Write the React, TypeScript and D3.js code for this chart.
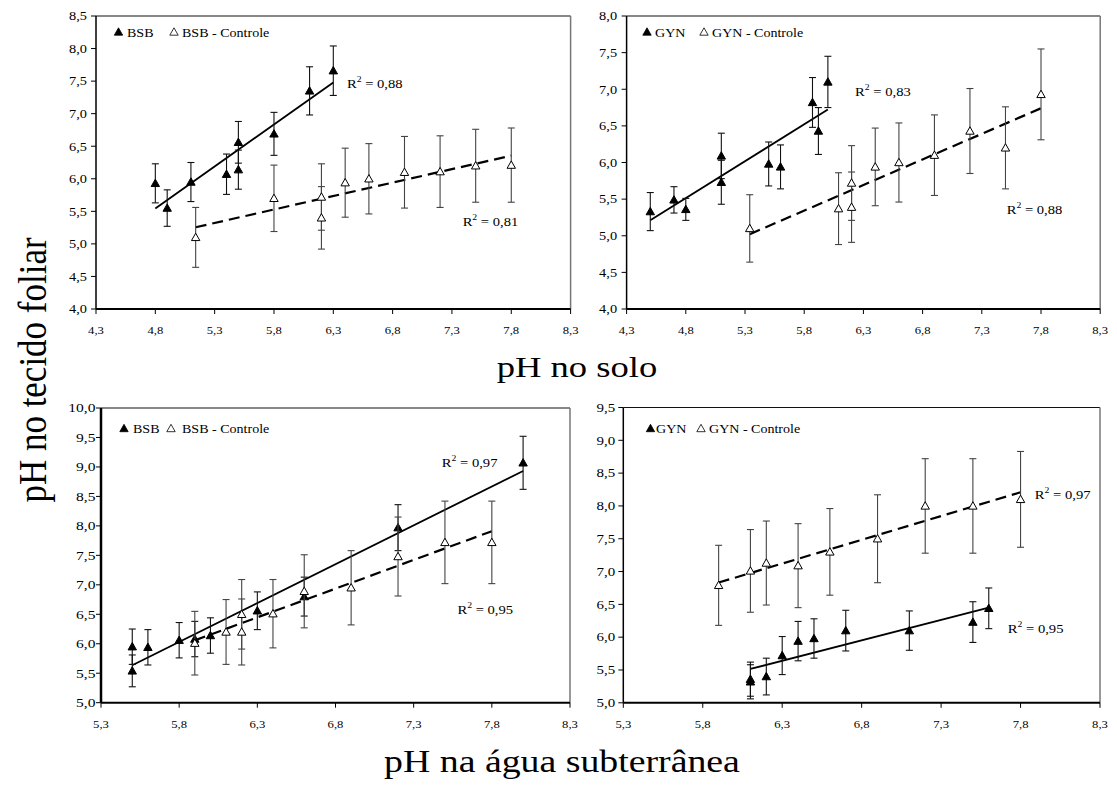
import React from 'react';
import * as d3 from 'd3';

const FONT = '"Liberation Serif","Times New Roman",Times,serif';

// ---------- tick values ----------
const soilTicksX = [4.3, 4.8, 5.3, 5.8, 6.3, 6.8, 7.3, 7.8, 8.3];
const waterTicksX = [5.3, 5.8, 6.3, 6.8, 7.3, 7.8, 8.3];
const ticksYA = [4.0, 4.5, 5.0, 5.5, 6.0, 6.5, 7.0, 7.5, 8.0, 8.5];
const ticksYB = [4.0, 4.5, 5.0, 5.5, 6.0, 6.5, 7.0, 7.5, 8.0];
const ticksYC = [5.0, 5.5, 6.0, 6.5, 7.0, 7.5, 8.0, 8.5, 9.0, 9.5, 10.0];
const ticksYD = [5.0, 5.5, 6.0, 6.5, 7.0, 7.5, 8.0, 8.5, 9.0, 9.5];

// ---------- Panel A: BSB, pH no solo ----------
const soilBsbX = [4.8, 4.9, 5.1, 5.4, 5.5, 5.5, 5.8, 6.1, 6.3];
const soilBsbY = [5.93, 5.55, 5.95, 6.07, 6.14, 6.56, 6.69, 7.35, 7.66];
const soilBsbErr = [0.30, 0.28, 0.30, 0.31, 0.30, 0.32, 0.33, 0.37, 0.38];
const soilBsbCtrlX = [5.14, 5.8, 6.2, 6.2, 6.4, 6.6, 6.9, 7.2, 7.5, 7.8];
const soilBsbCtrlY = [5.10, 5.70, 5.72, 5.40, 5.94, 6.00, 6.10, 6.11, 6.20, 6.21];
const soilBsbCtrlErr = [0.46, 0.51, 0.51, 0.48, 0.53, 0.54, 0.55, 0.55, 0.56, 0.57];

// ---------- Panel B: GYN, pH no solo ----------
const soilGynX = [4.5, 4.7, 4.8, 5.1, 5.1, 5.5, 5.6, 5.87, 5.92, 6.0];
const soilGynY = [5.33, 5.49, 5.36, 6.09, 5.73, 5.98, 5.94, 6.82, 6.43, 7.10];
const soilGynErr = [0.26, 0.18, 0.15, 0.31, 0.30, 0.30, 0.30, 0.34, 0.32, 0.35];
const soilGynCtrlX = [5.34, 6.09, 6.2, 6.2, 6.4, 6.6, 6.9, 7.2, 7.5, 7.8];
const soilGynCtrlY = [5.10, 5.37, 5.39, 5.72, 5.94, 6.00, 6.10, 6.43, 6.20, 6.93];
const soilGynCtrlErr = [0.46, 0.49, 0.48, 0.51, 0.53, 0.54, 0.55, 0.58, 0.56, 0.62];

// ---------- Panel C: BSB, pH na água subterrânea ----------
const waterBsbX = [5.5, 5.5, 5.6, 5.8, 5.9, 6.0, 6.3, 6.6, 7.2, 8.0];
const waterBsbY = [5.95, 5.54, 5.94, 6.06, 6.08, 6.14, 6.56, 6.80, 7.97, 9.07];
const waterBsbErr = [0.30, 0.27, 0.30, 0.30, 0.30, 0.30, 0.32, 0.33, 0.39, 0.45];
const waterBsbCtrlX = [5.9, 6.1, 6.2, 6.2, 6.4, 6.6, 6.9, 7.2, 7.5, 7.8];
const waterBsbCtrlY = [6.01, 6.20, 6.50, 6.20, 6.51, 6.89, 6.95, 7.48, 7.72, 7.72];
const waterBsbCtrlErr = [0.54, 0.55, 0.59, 0.56, 0.58, 0.62, 0.63, 0.67, 0.70, 0.70];

// ---------- Panel D: GYN, pH na água subterrânea ----------
const waterGynX = [6.1, 6.1, 6.2, 6.3, 6.4, 6.5, 6.7, 7.1, 7.5, 7.6];
const waterGynY = [5.36, 5.32, 5.40, 5.72, 5.94, 5.98, 6.10, 6.10, 6.23, 6.44];
const waterGynErr = [0.26, 0.26, 0.28, 0.29, 0.30, 0.30, 0.31, 0.30, 0.31, 0.31];
const waterGynCtrlX = [5.9, 6.1, 6.2, 6.4, 6.6, 6.9, 7.2, 7.5, 7.8];
const waterGynCtrlY = [6.79, 7.01, 7.13, 7.09, 7.30, 7.50, 8.00, 8.00, 8.10];
const waterGynCtrlErr = [0.61, 0.63, 0.64, 0.64, 0.66, 0.67, 0.72, 0.72, 0.73];

const fmt = (v: number) => d3.format('.1f')(v).replace('.', ',');

function linreg(xs: number[], ys: number[]) {
  const mx = d3.mean(xs) as number;
  const my = d3.mean(ys) as number;
  let sxy = 0, sxx = 0;
  xs.forEach((x, i) => { sxy += (x - mx) * (ys[i] - my); sxx += (x - mx) * (x - mx); });
  const b = sxy / sxx;
  const a = my - b * mx;
  return (x: number) => a + b * x;
}

type Series = { x: number[]; y: number[]; err: number[]; filled: boolean };
type Panel = {
  l: number; r: number; t: number; b: number;
  xDomain: [number, number]; yDomain: [number, number];
  xTicks: number[]; yTicks: number[];
  series: Series[];
  name: string;
  legend: { x: number; y: number; tx: number; ox: number; otx: number };
  r2: { text: string; x: number; y: number }[];
  yFont: number; yGap: number; leftW: number;
};

const panels: Panel[] = [
  {
    l: 96, r: 570.6, t: 16, b: 309, xDomain: [4.3, 8.3], yDomain: [4.0, 8.5],
    xTicks: soilTicksX, yTicks: ticksYA,
    series: [
      { x: soilBsbX, y: soilBsbY, err: soilBsbErr, filled: true },
      { x: soilBsbCtrlX, y: soilBsbCtrlY, err: soilBsbCtrlErr, filled: false },
    ],
    name: 'BSB',
    legend: { x: 118.5, y: 32, tx: 127, ox: 174, otx: 182 },
    r2: [{ text: '0,88', x: 6.415, y: 7.39 }, { text: '0,81', x: 7.39, y: 5.27 }],
    yFont: 12.5, yGap: 9, leftW: 1.5,
  },
  {
    l: 626.6, r: 1100.2, t: 16, b: 309, xDomain: [4.3, 8.3], yDomain: [4.0, 8.0],
    xTicks: soilTicksX, yTicks: ticksYB,
    series: [
      { x: soilGynX, y: soilGynY, err: soilGynErr, filled: true },
      { x: soilGynCtrlX, y: soilGynCtrlY, err: soilGynCtrlErr, filled: false },
    ],
    name: 'GYN',
    legend: { x: 647, y: 32, tx: 655, ox: 704, otx: 712 },
    r2: [{ text: '0,83', x: 6.23, y: 6.91 }, { text: '0,88', x: 7.51, y: 5.30 }],
    yFont: 12.5, yGap: 9.5, leftW: 1.5,
  },
  {
    l: 101, r: 570, t: 408, b: 702.7, xDomain: [5.3, 8.3], yDomain: [5.0, 10.0],
    xTicks: waterTicksX, yTicks: ticksYC,
    series: [
      { x: waterBsbX, y: waterBsbY, err: waterBsbErr, filled: true },
      { x: waterBsbCtrlX, y: waterBsbCtrlY, err: waterBsbCtrlErr, filled: false },
    ],
    name: 'BSB',
    legend: { x: 124, y: 428.5, tx: 133, ox: 171, otx: 182 },
    r2: [{ text: '0,97', x: 7.48, y: 9.0 }, { text: '0,95', x: 7.58, y: 6.5 }],
    yFont: 13.5, yGap: 5.5, leftW: 2.5,
  },
  {
    l: 623.3, r: 1100, t: 407.5, b: 702.8, xDomain: [5.3, 8.3], yDomain: [5.0, 9.5],
    xTicks: waterTicksX, yTicks: ticksYD,
    series: [
      { x: waterGynX, y: waterGynY, err: waterGynErr, filled: true },
      { x: waterGynCtrlX, y: waterGynCtrlY, err: waterGynCtrlErr, filled: false },
    ],
    name: 'GYN',
    legend: { x: 650.5, y: 428.5, tx: 656, ox: 701, otx: 709 },
    r2: [{ text: '0,97', x: 7.89, y: 8.11 }, { text: '0,95', x: 7.72, y: 6.06 }],
    yFont: 13, yGap: 8, leftW: 1.5,
  },
];

const tri = (cx: number, cy: number) =>
  `M${cx},${cy - 4.2}L${cx + 4.2},${cy + 3.2}L${cx - 4.2},${cy + 3.2}Z`;

function T({ x, y, size, sx = 1.15, anchor = 'start', children }: any) {
  return (
    <text transform={`translate(${x},${y}) scale(${sx},1)`} fontSize={size}
      textAnchor={anchor} fontFamily={FONT} fill="#000">{children}</text>
  );
}

function PanelView({ p }: { p: Panel }) {
  const xs = d3.scaleLinear().domain(p.xDomain).range([p.l, p.r]);
  const ys = d3.scaleLinear().domain(p.yDomain).range([p.b, p.t]);
  return (
    <g>
      {/* frame */}
      <line x1={p.l} x2={p.r} y1={p.t} y2={p.t} stroke="#111" strokeWidth={1.2} />
      <line x1={p.r} x2={p.r} y1={p.t} y2={p.b} stroke="#777" strokeWidth={1.5} />
      <line x1={p.l} x2={p.r} y1={p.b} y2={p.b} stroke="#000" strokeWidth={2} />
      <line x1={p.l} x2={p.l} y1={p.t} y2={p.b} stroke="#000" strokeWidth={p.leftW} />
      {/* x ticks */}
      {p.xTicks.map((v) => (
        <g key={'x' + v}>
          <line x1={xs(v)} x2={xs(v)} y1={p.b} y2={p.b + 5} stroke="#000" strokeWidth={1} />
          <T x={xs(v)} y={p.b + 25} size={11} anchor="middle">{fmt(v)}</T>
        </g>
      ))}
      {/* y ticks */}
      {p.yTicks.map((v) => (
        <g key={'y' + v}>
          <line x1={p.l - 5} x2={p.l} y1={ys(v)} y2={ys(v)} stroke="#000" strokeWidth={1} />
          <T x={p.l - p.yGap} y={ys(v) + 4.3} size={p.yFont} anchor="end">{fmt(v)}</T>
        </g>
      ))}
      {/* trend lines */}
      {p.series.map((s, i) => {
        const f = linreg(s.x, s.y);
        const x0 = d3.min(s.x) as number, x1 = d3.max(s.x) as number;
        return (
          <line key={'t' + i} x1={xs(x0)} y1={ys(f(x0))} x2={xs(x1)} y2={ys(f(x1))}
            stroke="#000" strokeWidth={s.filled ? 1.8 : 2.2}
            strokeDasharray={s.filled ? undefined : '11,6'} />
        );
      })}
      {/* error bars and markers */}
      {p.series.map((s, i) => (
        <g key={'s' + i}>
          {s.x.map((xv, j) => {
            const cx = xs(xv), cy = ys(s.y[j]);
            const yt = ys(s.y[j] + s.err[j]), yb = ys(s.y[j] - s.err[j]);
            const col = s.filled ? '#111' : '#444';
            return (
              <g key={j}>
                <line x1={cx} x2={cx} y1={yt} y2={yb} stroke={col} strokeWidth={1.1} />
                <line x1={cx - 3.5} x2={cx + 3.5} y1={yt} y2={yt} stroke={col} strokeWidth={1.1} />
                <line x1={cx - 3.5} x2={cx + 3.5} y1={yb} y2={yb} stroke={col} strokeWidth={1.1} />
              </g>
            );
          })}
          {s.x.map((xv, j) => (
            <path key={'m' + j} d={tri(xs(xv), ys(s.y[j]))}
              fill={s.filled ? '#000' : '#fff'} stroke="#000" strokeWidth={1} />
          ))}
        </g>
      ))}
      {/* legend */}
      <path d={tri(p.legend.x, p.legend.y)} fill="#000" stroke="#000" strokeWidth={0.8} />
      <T x={p.legend.tx} y={p.legend.y + 4.5} size={13} sx={1.08}>{p.name}</T>
      <path d={tri(p.legend.ox, p.legend.y)} fill="#fff" stroke="#000" strokeWidth={0.8} />
      <T x={p.legend.otx} y={p.legend.y + 4.5} size={13} sx={1.08}>{p.name + ' - Controle'}</T>
      {/* R² labels */}
      {p.r2.map((r, i) => (
        <T key={'r' + i} x={xs(r.x)} y={ys(r.y)} size={13.5} sx={1.08}>
          R<tspan fontSize={9} dy={-6}>2</tspan><tspan dy={6}>{' = ' + r.text}</tspan>
        </T>
      ))}
    </g>
  );
}

export default function App() {
  return (
    <svg width={1117} height={792} style={{ display: 'block', position: 'absolute', left: 0, top: 0, background: '#fff' }}>
      <rect width={1117} height={792} fill="#fff" />
      {panels.map((p, i) => <PanelView key={i} p={p} />)}
      <T x={577} y={377} size={30} sx={1.22} anchor="middle">pH no solo</T>
      <T x={562} y={772} size={31} sx={1.22} anchor="middle">pH na água subterrânea</T>
      <text transform={`translate(46,370) scale(1.12,1) rotate(-90)`} fontSize={35}
        fontFamily={FONT} textAnchor="middle" fill="#000">pH no tecido foliar</text>
    </svg>
  );
}
